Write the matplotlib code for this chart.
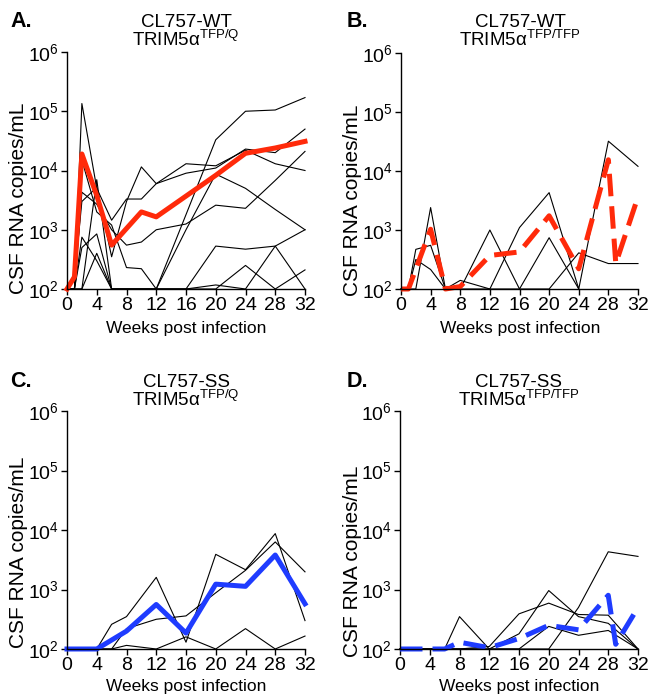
import numpy as np
import matplotlib
matplotlib.use("Agg")
import matplotlib.pyplot as plt

plt.rcParams['font.family'] = ['Liberation Sans', 'DejaVu Sans']
plt.rcParams['mathtext.fontset'] = 'custom'
plt.rcParams['mathtext.rm'] = 'Liberation Sans'
plt.rcParams['mathtext.it'] = 'Liberation Sans:italic'
plt.rcParams['mathtext.bf'] = 'Liberation Sans:bold'

nan = np.nan

# Panel A: CL757-WT, TRIM5a TFP/Q
weeks_a = [0, 1, 2, 4, 6, 8, 10, 12, 16, 20, 24, 28, 32]
animals_a = [
    [100, 100, 1.5e4, 2000, 1200, 230, 220, 100, 1800, 3.3e4, 1e5, 1.05e5, 1.7e5],
    [100, 100, 1.35e5, 5000, 1450, 3300, 3300, 6000, 9000, 1.1e4, 2.3e4, 2e4, 5e4],
    [100, 150, 3000, 5200, 350, 3000, 1.15e4, 6000, 1.3e4, 1.2e4, 2.2e4, 1.3e4, 1e4],
    [100, 100, 4300, 2700, 1000, 550, 620, 1000, 1250, 2600, 2300, 6800, 2.1e4],
    [100, 100, 100, 7000, 100, 100, 100, 100, 1000, 8700, 5000, 2200, 1000],
    [100, 100, 500, 850, 100, 100, 100, 100, 100, 530, 470, 530, 1000],
    [100, 100, 100, 400, 100, 100, 100, 100, 100, 117, 100, 530, 100],
    [100, 100, 750, 300, 100, 100, 100, 100, 100, 100, 250, 100, 210],
]
mean_a = [100, 160, 1.9e4, 3800, 550, 1050, 2000, 1650, 3700, 8300, 1.95e4, 2.4e4, 3.1e4]

# Panel B: CL757-WT, TRIM5a TFP/TFP
weeks_b = [0, 1, 2, 4, 6, 8, 12, 16, 20, 24, 28, 32]
animals_b = [
    [100, 100, 470, 550, 100, 140, 100, 1100, 4300, 100, 3.2e4, 1.2e4],
    [100, 100, 100, 2400, 100, 100, 1000, 100, 740, 100, nan, nan],
    [100, 100, 316, 214, 100, 100, 100, 100, 100, 410, 270, 270],
]
mean_weeks_b = [0, 1, 4, 6, 8, 12, 16, 20, 24, 28, 29, 32]
mean_b = [100, 100, 1030, 100, 110, 370, 425, 1740, 220, 1.55e4, 270, 3650]

# Panel C: CL757-SS, TRIM5a TFP/Q
weeks_c = [0, 4, 6, 8, 12, 16, 20, 24, 28, 32]
animals_c = [
    [100, 100, 260, 350, 1600, 130, 3900, 2150, 8700, 300],
    [100, 100, 100, 220, 316, 360, 880, 2100, 6300, 1980],
    [100, 100, 100, 115, 100, 160, 100, 220, 100, 165],
]
mean_weeks_c = [0, 4, 8, 12, 16, 20, 24, 28, 32]
mean_c = [100, 100, 200, 560, 185, 1230, 1130, 3800, 575]

# Panel D: CL757-SS, TRIM5a TFP/TFP
weeks_d = [0, 4, 6, 8, 12, 16, 20, 24, 28, 32]
animals_d = [
    [100, 100, 100, 350, 100, 180, 960, 350, 270, 100],
    [100, 100, 100, 100, 110, 390, 590, 380, 370, 100],
    [100, 100, 100, 100, 100, 100, 240, 170, 205, 100],
    [100, 100, 100, 100, 100, 100, 100, 500, 4300, 3600],
]
mean_weeks_d = [0, 6, 8, 12, 16, 20, 24, 28, 29, 32]
mean_d = [100, 100, 130, 105, 150, 250, 210, 800, 120, 500]

RED = '#ff2a0a'
BLUE = '#1f3cff'
W, H = 648, 699

fig = plt.figure(figsize=(W / 100, H / 100), dpi=100)


def panel(x0, x1, ytop, ybot):
    ax = fig.add_axes([x0 / W, 1 - ybot / H, (x1 - x0) / W, (ybot - ytop) / H])
    ax.set_yscale('log')
    ax.set_xlim(0, 32)
    ax.set_ylim(100, 1e6)
    ax.set_xticks(range(0, 33, 4))
    ax.set_yticks([1e2, 1e3, 1e4, 1e5, 1e6])
    ax.yaxis.set_minor_locator(matplotlib.ticker.NullLocator())
    for s in ['top', 'right']:
        ax.spines[s].set_visible(False)
    for s in ['left', 'bottom']:
        ax.spines[s].set_linewidth(1.0)
    ax.tick_params(direction='out', length=4, width=1, labelsize=14, pad=2)
    return ax


def napisy(ax, litera, szczep, genotyp, lx, ty, cx, ylx, yly, xly):
    fig.text(lx / W, 1 - ty / H, litera, fontsize=15.5, fontweight='bold', va='baseline')
    fig.text(cx / W, 1 - ty / H, szczep, fontsize=13.5, ha='center', va='baseline')
    fig.text(cx / W, 1 - (ty + 19) / H, r'TRIM5α$^{\mathregular{' + genotyp + '}}$',
             fontsize=13.5, ha='center', va='baseline')
    fig.text(ylx / W, 1 - yly / H, 'CSF RNA copies/mL', fontsize=15,
             rotation=90, ha='center', va='center')
    fig.text(cx / W, 1 - xly / H, 'Weeks post infection', fontsize=12.5,
             ha='center', va='center')


ax_a = panel(67, 305, 52, 289)
for v in animals_a:
    ax_a.plot(weeks_a, v, color='black', lw=0.8, clip_on=False)
ax_a.plot(weeks_a, mean_a, color=RED, lw=3.6, clip_on=False)
napisy(ax_a, 'A.', 'CL757-WT', 'TFP/Q', 10, 27, 186, 19, 198, 328)

ax_b = panel(401, 638, 53, 289)
for v in animals_b:
    ax_b.plot(weeks_b, v, color='black', lw=0.8, clip_on=False)
ax_b.plot(mean_weeks_b, mean_b, color=RED, lw=3.6, dashes=(4.5, 2), clip_on=False)
napisy(ax_b, 'B.', 'CL757-WT', 'TFP/TFP', 347, 27, 520, 352, 200, 328)

ax_c = panel(67, 305, 411, 649)
for v in animals_c:
    ax_c.plot(weeks_c, v, color='black', lw=0.8, clip_on=False)
ax_c.plot(mean_weeks_c, mean_c, color=BLUE, lw=3.6, clip_on=False)
napisy(ax_c, 'C.', 'CL757-SS', 'TFP/Q', 10, 387, 186, 19, 552, 687)

ax_d = panel(400, 638, 411, 649)
for v in animals_d:
    ax_d.plot(weeks_d, v, color='black', lw=0.8, clip_on=False)
ax_d.plot(mean_weeks_d, mean_d, color=BLUE, lw=3.6, dashes=(4.5, 2), clip_on=False)
napisy(ax_d, 'D.', 'CL757-SS', 'TFP/TFP', 347, 387, 519, 352, 561, 687)

fig.savefig('out.png', dpi=100)
